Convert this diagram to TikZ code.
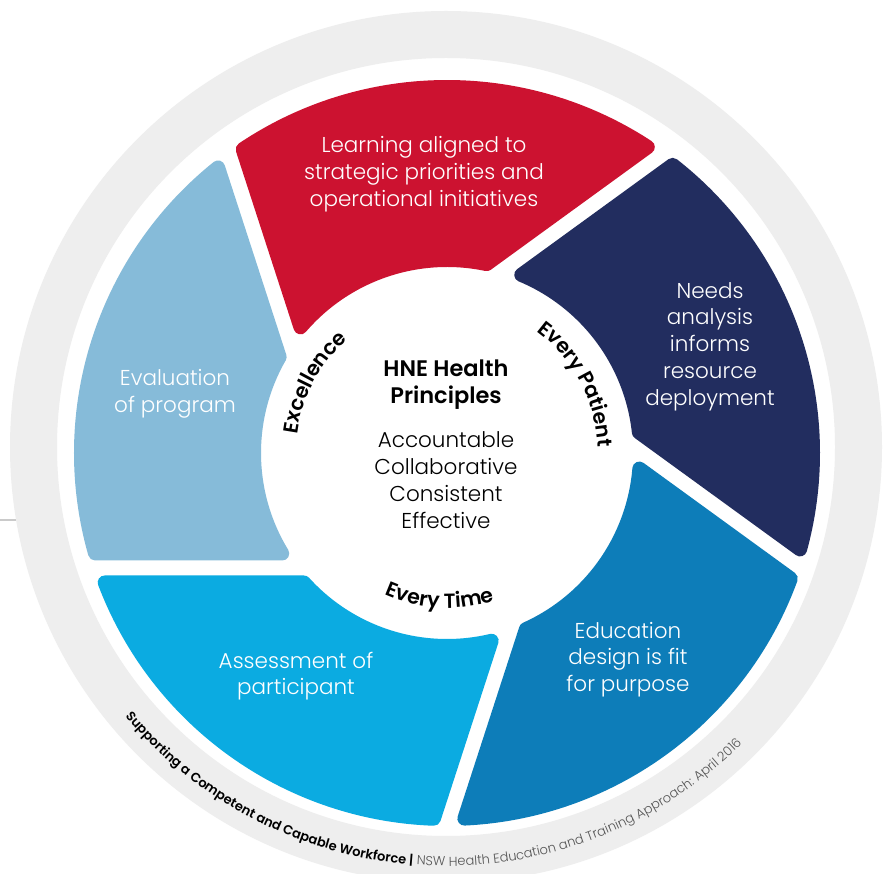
\documentclass[tikz,border=0pt]{standalone}
\usepackage{fontspec}
\setmainfont{Poppins}[UprightFont=* Light, BoldFont=* SemiBold]
\usetikzlibrary{decorations.text}
\definecolor{hnered}{HTML}{CC1230}
\definecolor{hnenavy}{HTML}{222D5F}
\definecolor{hneblue}{HTML}{0D7DB9}
\definecolor{hnecyan}{HTML}{0BABE1}
\definecolor{hnesky}{HTML}{86BBD9}
\definecolor{ringgrey}{HTML}{EEEEEE}
\definecolor{notegrey}{HTML}{555555}

% wheel: outer/inner radius, gap offset from centre, half gap, corner radius
\def\Rout{373}
\def\Rin{186}
\def\gapoff{115}
\def\gaphalf{7.5}
\def\rnd{7}

% one part of the wheel between the gap with normal #1 and the next one
\newcommand{\wheelpart}[2]{%
  \pgfmathsetmacro\dfar{\gapoff+\gaphalf+\rnd}
  \pgfmathsetmacro\dnear{\gapoff-\gaphalf-\rnd}
  \pgfmathsetmacro\ro{\Rout-\rnd}
  \pgfmathsetmacro\ri{\Rin+\rnd}
  \pgfmathsetmacro\oa{#1-acos(\dfar/\ro)}
  \pgfmathsetmacro\ia{#1-acos(\dfar/\ri)}
  \pgfmathsetmacro\ob{#1+72-acos(\dnear/\ro)}
  \pgfmathsetmacro\ib{#1+72-acos(\dnear/\ri)}
  \path[part=#2] (\oa:\ro) arc[start angle=\oa, end angle=\ob, radius=\ro]
    -- (\ib:\ri) arc[start angle=\ib, end angle=\ia, radius=\ri] -- cycle;
}

\begin{document}
\begin{tikzpicture}[x=1pt, y=1pt,
part/.style={fill=#1, draw=#1, line width=14pt, line join=round},
parttext/.style={text=white, align=center, font=\fontsize{21.5}{26.7}\selectfont},
principle/.style={text=black, align=center, font=\fontsize{21.5}{27}\selectfont},
arclabel/.style={decorate, decoration={text along path, text align=center,
  text={|\bfseries\fontsize{20.5}{24}\selectfont|#1}}}]

\fill[white] (0,0) rectangle (886,873);
\useasboundingbox (0,0) rectangle (886,873);

% grey band round the wheel
\draw[line width=2pt, ringgrey!85!black] (0,353) -- (20,353);
\fill[ringgrey, even odd rule] (446,426) circle[radius=436] (446,426) circle[radius=389];

\begin{scope}[shift={(447,420)}]
  \foreach \nrm/\col in {198/hnesky, 270/hnecyan, 342/hneblue, 54/hnenavy, 126/hnered}
    \wheelpart{\nrm}{\col};

  \path[arclabel=Every Patient] (64:151) arc[start angle=64, end angle=-8, radius=151];
  \path[arclabel=Excellence] (188:151) arc[start angle=188, end angle=116, radius=151];
  \path[arclabel=Every Time] (230:155) arc[start angle=230, end angle=304, radius=155];
\end{scope}

\node[parttext] (learning) at (424,699) {Learning aligned to\\strategic priorities and\\operational initiatives};
\node[parttext] (needs) at (710,526.5) {Needs\\analysis\\informs\\resource\\deployment};
\node[parttext] (design) at (628,213.5) {Education\\design is fit\\for purpose};
\node[parttext] (assess) at (296,197) {Assessment of\\participant};
\node[parttext] (evaluate) at (175,479.5) {Evaluation\\of program};

\node[principle, font=\bfseries\fontsize{22.5}{27}\selectfont] (title) at (446,488.5) {HNE Health\\Principles};
\node[principle] (values) at (446,392.5) {Accountable\\Collaborative\\Consistent\\Effective};

% footnote along the grey band
\path[decorate, decoration={text along path, text align=center,
  text format delimiters={[}{]},
  text={[\bfseries\fontsize{13}{15}\selectfont\color{black}]Supporting a Competent and Capable Workforce |[\mdseries\fontsize{13}{15}\selectfont\color{notegrey}] NSW Health Education and Training Approach: April 2016}}]
  (446,426) ++(220:419) arc[start angle=220, end angle=315, radius=419];
\end{tikzpicture}
\end{document}
